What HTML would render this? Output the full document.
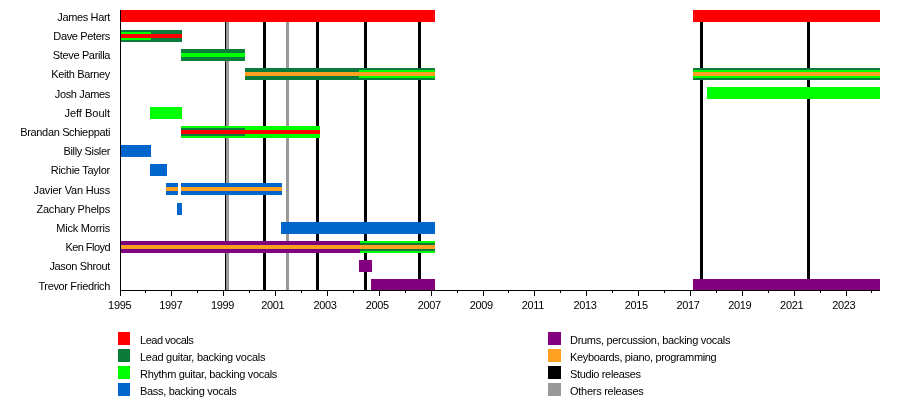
<!DOCTYPE html>
<html><head><meta charset="utf-8"><style>
html,body{margin:0;padding:0;background:#fff;width:900px;height:400px;overflow:hidden}
svg{display:block;will-change:transform}
.t{font-family:"Liberation Sans",sans-serif;font-size:11px;letter-spacing:-0.35px;fill:#000}
</style></head><body>
<svg width="900" height="400" viewBox="0 0 900 400">
<rect x="0" y="0" width="900" height="400" fill="#fff"/>
<g shape-rendering="crispEdges">
<rect x="225" y="10" width="1" height="280" fill="#000000"/>
<rect x="226" y="10" width="3" height="280" fill="#999999"/>
<rect x="263" y="10" width="3" height="280" fill="#000000"/>
<rect x="286" y="10" width="3" height="280" fill="#999999"/>
<rect x="316" y="10" width="3" height="280" fill="#000000"/>
<rect x="364" y="10" width="3" height="280" fill="#000000"/>
<rect x="418" y="10" width="3" height="280" fill="#000000"/>
<rect x="700" y="10" width="3" height="280" fill="#000000"/>
<rect x="807" y="10" width="3" height="280" fill="#000000"/>
<rect x="120" y="10" width="315" height="12" fill="#ff0000"/>
<rect x="693" y="10" width="187" height="12" fill="#ff0000"/>
<rect x="120" y="30" width="62" height="12" fill="#0b7a3a"/>
<rect x="181" y="49" width="64" height="12" fill="#0b7a3a"/>
<rect x="245" y="68" width="190" height="12" fill="#0b7a3a"/>
<rect x="693" y="68" width="187" height="12" fill="#0b7a3a"/>
<rect x="707" y="87" width="173" height="12" fill="#00ff00"/>
<rect x="150" y="107" width="32" height="12" fill="#00ff00"/>
<rect x="181" y="126" width="139" height="12" fill="#00ff00"/>
<rect x="120" y="145" width="31" height="12" fill="#0066cc"/>
<rect x="150" y="164" width="17" height="12" fill="#0066cc"/>
<rect x="166" y="183" width="12" height="12" fill="#0066cc"/>
<rect x="181" y="183" width="101" height="12" fill="#0066cc"/>
<rect x="177" y="203" width="5" height="12" fill="#0066cc"/>
<rect x="281" y="222" width="154" height="12" fill="#0066cc"/>
<rect x="120" y="241" width="240" height="12" fill="#800080"/>
<rect x="360" y="241" width="75" height="12" fill="#00ff00"/>
<rect x="359" y="260" width="13" height="12" fill="#800080"/>
<rect x="371" y="279" width="64" height="12" fill="#800080"/>
<rect x="693" y="279" width="187" height="12" fill="#800080"/>
<rect x="120" y="32" width="31" height="8" fill="#00ff00"/>
<rect x="359" y="70" width="76" height="8" fill="#00ff00"/>
<rect x="693" y="70" width="187" height="8" fill="#00ff00"/>
<rect x="181" y="128" width="64" height="8" fill="#0b7a3a"/>
<rect x="360" y="243" width="75" height="8" fill="#0b7a3a"/>
<rect x="120" y="34" width="62" height="4" fill="#ff0000"/>
<rect x="181" y="53" width="64" height="4" fill="#00ff00"/>
<rect x="245" y="72" width="190" height="4" fill="#ffa020"/>
<rect x="693" y="72" width="187" height="4" fill="#ffa020"/>
<rect x="181" y="130" width="139" height="4" fill="#ff0000"/>
<rect x="166" y="187" width="12" height="4" fill="#ffa020"/>
<rect x="181" y="187" width="101" height="4" fill="#ffa020"/>
<rect x="120" y="245" width="240" height="4" fill="#ffa020"/>
<rect x="360" y="245" width="75" height="4" fill="#ffa020"/>
<rect x="120" y="10" width="1" height="286" fill="#000000"/>
<rect x="120" y="290" width="760" height="1" fill="#000000"/>
<rect x="120" y="291" width="1" height="5" fill="#000000"/>
<rect x="145" y="291" width="1" height="2" fill="#000000"/>
<rect x="171" y="291" width="1" height="5" fill="#000000"/>
<rect x="197" y="291" width="1" height="2" fill="#000000"/>
<rect x="223" y="291" width="1" height="5" fill="#000000"/>
<rect x="249" y="291" width="1" height="2" fill="#000000"/>
<rect x="275" y="291" width="1" height="5" fill="#000000"/>
<rect x="301" y="291" width="1" height="2" fill="#000000"/>
<rect x="327" y="291" width="1" height="5" fill="#000000"/>
<rect x="353" y="291" width="1" height="2" fill="#000000"/>
<rect x="379" y="291" width="1" height="5" fill="#000000"/>
<rect x="405" y="291" width="1" height="2" fill="#000000"/>
<rect x="431" y="291" width="1" height="5" fill="#000000"/>
<rect x="457" y="291" width="1" height="2" fill="#000000"/>
<rect x="483" y="291" width="1" height="5" fill="#000000"/>
<rect x="508" y="291" width="1" height="2" fill="#000000"/>
<rect x="534" y="291" width="1" height="5" fill="#000000"/>
<rect x="560" y="291" width="1" height="2" fill="#000000"/>
<rect x="586" y="291" width="1" height="5" fill="#000000"/>
<rect x="612" y="291" width="1" height="2" fill="#000000"/>
<rect x="638" y="291" width="1" height="5" fill="#000000"/>
<rect x="664" y="291" width="1" height="2" fill="#000000"/>
<rect x="690" y="291" width="1" height="5" fill="#000000"/>
<rect x="716" y="291" width="1" height="2" fill="#000000"/>
<rect x="742" y="291" width="1" height="5" fill="#000000"/>
<rect x="768" y="291" width="1" height="2" fill="#000000"/>
<rect x="794" y="291" width="1" height="5" fill="#000000"/>
<rect x="820" y="291" width="1" height="2" fill="#000000"/>
<rect x="846" y="291" width="1" height="5" fill="#000000"/>
<rect x="871" y="291" width="1" height="2" fill="#000000"/>
<rect x="118" y="332" width="12" height="13" fill="#ff0000"/>
<rect x="118" y="349" width="12" height="13" fill="#0b7a3a"/>
<rect x="118" y="366" width="12" height="13" fill="#00ff00"/>
<rect x="118" y="383" width="12" height="13" fill="#0066cc"/>
<rect x="548" y="332" width="13" height="13" fill="#800080"/>
<rect x="548" y="349" width="13" height="13" fill="#ffa020"/>
<rect x="548" y="366" width="13" height="13" fill="#000000"/>
<rect x="548" y="383" width="13" height="13" fill="#999999"/>
</g>
<text x="119.65" y="309" text-anchor="middle" class="t">1995</text>
<text x="170.70" y="309" text-anchor="middle" class="t">1997</text>
<text x="222.55" y="309" text-anchor="middle" class="t">1999</text>
<text x="272.80" y="309" text-anchor="middle" class="t">2001</text>
<text x="325.05" y="309" text-anchor="middle" class="t">2003</text>
<text x="377.30" y="309" text-anchor="middle" class="t">2005</text>
<text x="429.30" y="309" text-anchor="middle" class="t">2007</text>
<text x="481.30" y="309" text-anchor="middle" class="t">2009</text>
<text x="532.80" y="309" text-anchor="middle" class="t">2011</text>
<text x="585.05" y="309" text-anchor="middle" class="t">2013</text>
<text x="636.30" y="309" text-anchor="middle" class="t">2015</text>
<text x="688.05" y="309" text-anchor="middle" class="t">2017</text>
<text x="739.80" y="309" text-anchor="middle" class="t">2019</text>
<text x="791.65" y="309" text-anchor="middle" class="t">2021</text>
<text x="843.80" y="309" text-anchor="middle" class="t">2023</text>
<text x="110" y="20.70" text-anchor="end" class="t">James Hart</text>
<text x="110" y="39.91" text-anchor="end" class="t">Dave Peters</text>
<text x="110" y="59.13" text-anchor="end" class="t">Steve Parilla</text>
<text x="110" y="78.34" text-anchor="end" class="t">Keith Barney</text>
<text x="110" y="97.56" text-anchor="end" class="t">Josh James</text>
<text x="110" y="116.77" text-anchor="end" class="t" style="letter-spacing:-0.006px">Jeff Boult</text>
<text x="110" y="135.98" text-anchor="end" class="t">Brandan Schieppati</text>
<text x="110" y="155.20" text-anchor="end" class="t">Billy Sisler</text>
<text x="110" y="174.41" text-anchor="end" class="t" style="letter-spacing:-0.267px">Richie Taylor</text>
<text x="110" y="193.63" text-anchor="end" class="t" style="letter-spacing:-0.193px">Javier Van Huss</text>
<text x="110" y="212.84" text-anchor="end" class="t" style="letter-spacing:-0.204px">Zachary Phelps</text>
<text x="110" y="232.05" text-anchor="end" class="t" style="letter-spacing:-0.230px">Mick Morris</text>
<text x="110" y="251.27" text-anchor="end" class="t" style="letter-spacing:-0.550px">Ken Floyd</text>
<text x="110" y="270.48" text-anchor="end" class="t">Jason Shrout</text>
<text x="110" y="289.70" text-anchor="end" class="t">Trevor Friedrich</text>
<text x="140" y="344" class="t" style="letter-spacing:-0.490px">Lead vocals</text>
<text x="140" y="361" class="t" style="letter-spacing:-0.281px">Lead guitar, backing vocals</text>
<text x="140" y="378" class="t" style="letter-spacing:-0.314px">Rhythm guitar, backing vocals</text>
<text x="140" y="395" class="t" style="letter-spacing:-0.308px">Bass, backing vocals</text>
<text x="570" y="344" class="t" style="letter-spacing:-0.297px">Drums, percussion, backing vocals</text>
<text x="570" y="361" class="t">Keyboards, piano, programming</text>
<text x="570" y="378" class="t">Studio releases</text>
<text x="570" y="395" class="t" style="letter-spacing:-0.271px">Others releases</text>
</svg>
</body></html>
